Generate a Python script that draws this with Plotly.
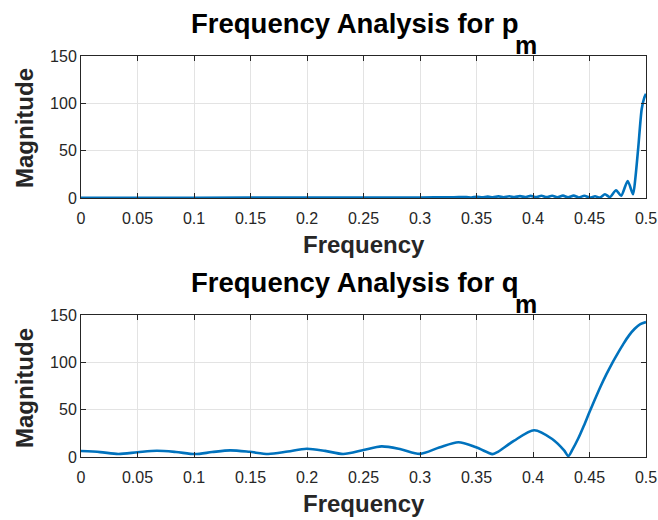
import plotly.graph_objects as go

# ---- data ----
p_freq = [0.0, 0.1, 0.2, 0.3, 0.33, 0.341, 0.3455, 0.3505, 0.355, 0.36, 0.3645, 0.3695,
          0.374, 0.379, 0.3835, 0.3885, 0.393, 0.398, 0.4025, 0.4075, 0.412, 0.417,
          0.4215, 0.4265, 0.431, 0.436, 0.4405, 0.4454, 0.4505, 0.4549, 0.4593, 0.4637,
          0.468, 0.4735, 0.478, 0.4838, 0.4885, 0.4905, 0.4932, 0.4962, 0.4985, 0.5]
p_mag = [0.2, 0.3, 0.4, 0.6, 0.8, 1.0, 0.6, 1.3, 0.7, 1.5, 0.8, 1.7, 0.8, 1.9, 0.9, 2.0,
         0.9, 2.2, 0.9, 2.3, 0.9, 2.4, 0.8, 2.5, 0.7, 2.5, 0.6, 2.4, 0.4, 1.8, 0.5, 4.0,
         1.0, 8.2, 2.3, 18.0, 4.0, 20.0, 54.0, 94.0, 106.0, 110.0]

q_freq = [0.0, 0.017, 0.033, 0.05, 0.067, 0.084, 0.1009, 0.116, 0.132, 0.149, 0.1658,
          0.183, 0.1997, 0.216, 0.232, 0.25, 0.266, 0.283, 0.300, 0.317, 0.334, 0.349,
          0.3605, 0.364, 0.368, 0.383, 0.401, 0.417, 0.4275, 0.4313, 0.435, 0.44,
          0.445, 0.45, 0.455, 0.46, 0.465, 0.47, 0.475, 0.48, 0.485, 0.49, 0.495, 0.5]
q_mag = [6.3, 5.2, 3.2, 5.0, 6.6, 5.3, 3.1, 5.2, 7.0, 5.5, 3.2, 5.8, 8.7, 6.5, 3.2,
         7.3, 11.2, 8.2, 3.3, 10.0, 15.6, 10.5, 4.5, 3.0, 4.8, 17.0, 28.3, 19.0, 7.0, 1.0,
         8.0, 19.5, 33.0, 47.5, 61.5, 75.0, 87.5, 99.0, 109.5, 119.5, 128.5, 135.5, 140.3,
         142.5]

x_ticks = [0, 0.05, 0.1, 0.15, 0.2, 0.25, 0.3, 0.35, 0.4, 0.45, 0.5]
x_labels = ["0", "0.05", "0.1", "0.15", "0.2", "0.25", "0.3", "0.35", "0.4", "0.45", "0.5"]
y_ticks = [0, 50, 100, 150]
y_labels = ["0", "50", "100", "150"]

title_main = ["Frequency Analysis for p", "Frequency Analysis for q"]
title_sub = "m"
x_title = "Frequency"
y_title = "Magnitude"

# ---- figure ----
FONT = "Liberation Sans, Arial, Helvetica, sans-serif"
LINE = "#0072BD"
AX = "#262626"
GRID = "#e3e3e3"

fig = go.Figure()
fig.add_trace(go.Scatter(x=p_freq, y=p_mag, mode="lines",
                         line=dict(color=LINE, width=2.6, shape="spline", smoothing=0.7),
                         xaxis="x", yaxis="y", showlegend=False))
fig.add_trace(go.Scatter(x=q_freq, y=q_mag, mode="lines",
                         line=dict(color=LINE, width=2.6, shape="spline", smoothing=0.8),
                         xaxis="x2", yaxis="y2", showlegend=False))

H_TOT = 401.0
top_lo = (457 - 198) / H_TOT
bot_hi = (457 - 315) / H_TOT

def xax(anchor):
    return dict(domain=[0, 1], range=[0, 0.5], anchor=anchor, automargin=False,
                tickvals=x_ticks, ticktext=x_labels,
                showgrid=True, gridcolor=GRID, gridwidth=1,
                showline=True, linecolor=AX, linewidth=1, mirror="ticks",
                ticks="inside", ticklen=5, tickcolor=AX, tickwidth=1,
                ticklabelstandoff=6,
                tickfont=dict(family=FONT, size=16, color=AX),
                zeroline=False, fixedrange=True)

def yax(anchor, dom):
    return dict(domain=dom, range=[0, 150], anchor=anchor, automargin=False,
                tickvals=y_ticks, ticktext=y_labels,
                showgrid=True, gridcolor=GRID, gridwidth=1,
                showline=True, linecolor=AX, linewidth=1, mirror="ticks",
                ticks="inside", ticklen=5, tickcolor=AX, tickwidth=1,
                tickfont=dict(family=FONT, size=16, color=AX),
                zeroline=False, fixedrange=True)

fig.update_layout(
    width=658, height=520,
    margin=dict(l=81, r=12, t=56, b=63),
    paper_bgcolor="white", plot_bgcolor="white",
    xaxis=xax("y"), yaxis=yax("x", [top_lo, 1.0]),
    xaxis2=xax("y2"), yaxis2=yax("x2", [0, bot_hi]),
    font=dict(family=FONT, color=AX),
)

def py(p):
    return (457 - p) / H_TOT

def px(p):
    return (p - 81) / 565.0

ann = []
for main, off in zip(title_main, [0, 259]):
    ann.append(dict(text="<b>" + main + "</b>", x=px(189), y=py(23.5 + off),
                    xref="paper", yref="paper", xanchor="left", yanchor="middle",
                    showarrow=False, font=dict(family=FONT, size=27.5, color="black")))
    ann.append(dict(text="<b>" + title_sub + "</b>", x=px(513), y=py(45 + off),
                    xref="paper", yref="paper", xanchor="left", yanchor="middle",
                    showarrow=False, font=dict(family=FONT, size=25, color="black")))
for yc in [245, 504]:
    ann.append(dict(text="<b>" + x_title + "</b>", x=px(363.5), y=py(yc), xref="paper", yref="paper",
                    xanchor="center", yanchor="middle", showarrow=False,
                    font=dict(family=FONT, size=24, color=AX)))
for yc in [128, 388]:
    ann.append(dict(text="<b>" + y_title + "</b>", x=px(24), y=py(yc), xref="paper", yref="paper",
                    xanchor="center", yanchor="middle", textangle=-90, showarrow=False,
                    font=dict(family=FONT, size=24, color=AX)))
fig.update_layout(annotations=ann)

fig.write_html("out.html")
